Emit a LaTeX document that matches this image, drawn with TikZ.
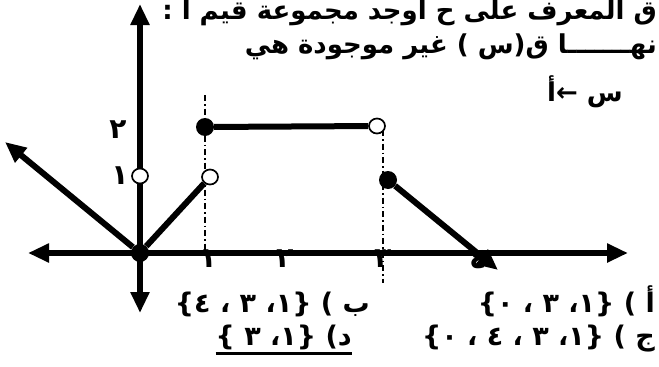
\documentclass[tikz,border=0pt]{standalone}
\usepackage{fontspec}
\usetikzlibrary{arrows.meta,shapes.geometric}
\TeXXeTstate=1
\newfontfamily\arb[Script=Arabic]{DejaVu Sans}
\begin{document}
\begin{tikzpicture}[x=1pt,y=-1pt,
  tip/.style={-{Triangle[length=21pt,width=18pt]}},
  axisline/.style={line width=6pt},
  graphline/.style={line width=6pt},
  guide/.style={line width=1.3pt, dash pattern=on 6pt off 3pt on 1.5pt off 3pt},
  filled/.style={circle, fill=black, inner sep=0pt, minimum size=18pt},
  hollow/.style={ellipse, draw=black, line width=1.7pt, fill=white, inner sep=0pt, minimum width=16pt, minimum height=15pt},
  head/.style={font=\arb\bfseries\fontsize{26}{30}\selectfont, inner sep=0pt},
  opt/.style={font=\arb\bfseries\fontsize{27}{30}\selectfont, inner sep=0pt},
  digit/.style={font=\arb\bfseries\fontsize{28}{30}\selectfont, inner sep=0pt}]
\useasboundingbox (0,0) rectangle (659,367);
% guides
\coordinate (g1t) at (205,95);
\coordinate (g1b) at (205,253);
\coordinate (g2t) at (383,130);
\coordinate (g2b) at (383,283);
\draw[guide] (g1t) -- (g1b);
\draw[guide] (g2t) -- (g2b);
% tick labels (under the axis)
\node[digit, anchor=north] (x1) at (208,250) {١};
\node[digit, anchor=north] (x2) at (285,250) {٢};
\node[digit, anchor=north] (x3) at (383,250) {٣};
\node[digit, anchor=north] (x4) at (478,250) {٤};
\node[digit] (y2) at (118,130) {٢};
\node[digit] (y1) at (120,176) {١};
% axes
\coordinate (ytop) at (140,4);
\coordinate (ybot) at (140,313);
\coordinate (xl) at (28,253);
\coordinate (xr) at (628,253);
\draw[axisline, {Triangle[length=21pt,width=18pt]}-{Triangle[length=21pt,width=18pt]}] (ybot) -- (ytop);
\draw[axisline, {Triangle[length=21pt,width=18pt]}-{Triangle[length=21pt,width=18pt]}] (xl) -- (xr);
% points
\node[filled] (O) at (140,253) {};
\node[hollow] (h0) at (140,176) {};
\node[hollow] (h1) at (210,177) {};
\node[filled] (f1) at (205,127) {};
\node[hollow] (h2) at (377,126) {};
\node[filled] (f2) at (388,180) {};
\coordinate (lt) at (5,142);
\coordinate (rt) at (498,270);
% graph
\draw[graphline, tip] (O) -- (lt);
\draw[graphline] (O) -- (h1);
\draw[graphline] (f1) -- (h2);
\draw[graphline, tip] (f2) -- (rt);
% heading
\node[head, anchor=base east] (t1) at (657,19) {\beginR ق المعرف على ح اوجد مجموعة قيم أ :\endR};
\node[head, anchor=base east] (t2) at (657,53) {\beginR نهـــــــا ق(س ) غير موجودة هي\endR};
\node[head, anchor=base east] (t3) at (623,101) {\beginR س ←أ\endR};
% options
\node[opt, anchor=base east] (oa) at (655,312) {\beginR أ ) \{١، ٣ ، ٠\}\endR};
\node[opt, anchor=base east] (ob) at (370,312) {\beginR ب ) \{١، ٣ ، ٤\}\endR};
\node[opt, anchor=base east] (oc) at (655,345) {\beginR ج ) \{١، ٣ ، ٤ ، ٠\}\endR};
\node[opt, anchor=base east] (od) at (352,345) {\beginR د) \{١، ٣ \}\endR};
\draw[line width=3.5pt] ([yshift=-4pt]od.south west) -- ([yshift=-4pt]od.south east);
\end{tikzpicture}
\end{document}
